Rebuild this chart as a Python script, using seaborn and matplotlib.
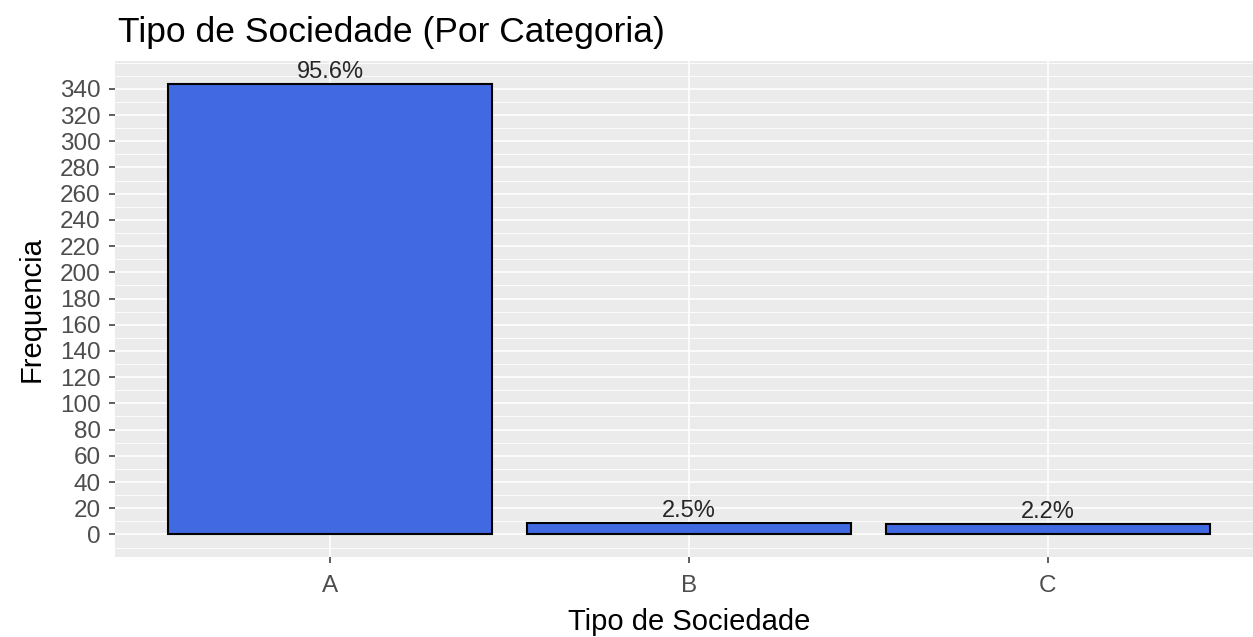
import matplotlib
matplotlib.use("Agg")
import matplotlib.pyplot as plt
import seaborn as sns
import numpy as np
from matplotlib.ticker import MultipleLocator

categories = ["A", "B", "C"]
frequencies = [344, 9, 8]
pct_labels = ["95.6%", "2.5%", "2.2%"]
y_ticks = list(range(0, 341, 20))

sns.set_theme(style="white")
plt.rcParams['font.family'] = ['Liberation Sans', 'DejaVu Sans']

fig = plt.figure(figsize=(12.53, 6.37), dpi=100)
fig.patch.set_facecolor("white")
W, H = 1253, 637
left_px, right_px, top_px, bot_px = 114.6, 1263.4, 61, 557
ax = fig.add_axes([left_px / W, 1 - bot_px / H, (right_px - left_px) / W, (bot_px - top_px) / H])
ax.set_facecolor("#EBEBEB")

sns.barplot(x=categories, y=frequencies, color="#4169E1", saturation=1,
            edgecolor="black", linewidth=1.5, width=0.9, ax=ax, zorder=3)

ax.set_xlim(-0.6, 2.6)
ymax = max(frequencies)
ax.set_ylim(-0.05 * ymax, 1.05 * ymax)
ax.set_yticks(y_ticks)
ax.yaxis.set_minor_locator(MultipleLocator(10))
ax.grid(True, which="major", color="white", linewidth=1.2, zorder=0)
ax.grid(True, which="minor", axis="y", color="white", linewidth=0.6, zorder=0)
ax.set_axisbelow(True)
for s in ax.spines.values():
    s.set_visible(False)

ax.tick_params(axis="both", which="major", length=4, width=1.1, color="#333333",
               labelsize=17.5, labelcolor="#4D4D4D", direction="out", left=True, bottom=True)
ax.tick_params(axis="y", which="minor", length=0)
ax.tick_params(axis="y", pad=6)
ax.tick_params(axis="x", pad=9)

for i, (v, lab) in enumerate(zip(frequencies, pct_labels)):
    ax.annotate(lab, xy=(i, v), xytext=(0, 0.5), textcoords="offset points",
                ha="center", va="bottom", fontsize=17, color="#262626", zorder=4)

ax.set_xlabel("Tipo de Sociedade", fontsize=21, color="black", labelpad=8)
ax.set_ylabel("Frequencia", fontsize=21, color="black", labelpad=10)
ax.set_title("Tipo de Sociedade (Por Categoria)", loc="left", fontsize=25.5,
             color="black", pad=14, x=0.003)

fig.savefig("out.png", dpi=100)
